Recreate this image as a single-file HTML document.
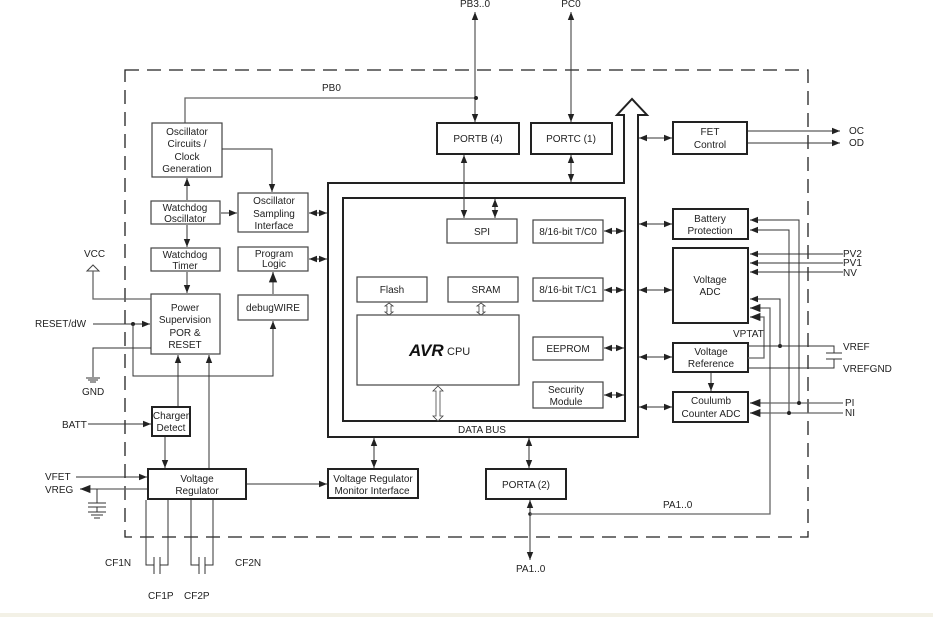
<!DOCTYPE html>
<html><head><meta charset="utf-8"><style>
html,body{margin:0;padding:0;background:#fff;width:933px;height:617px;overflow:hidden}
svg{display:block}
text{font-family:"Liberation Sans",sans-serif;font-size:10px;fill:#222}
.b{fill:#fff;stroke:#222;stroke-width:2}
.t{fill:#fff;stroke:#444;stroke-width:1.2}
.l{stroke:#333;stroke-width:1;fill:none}
.g{stroke:#666;stroke-width:1.3;fill:none}
</style></head><body>
<svg width="933" height="617" viewBox="0 0 933 617" xmlns="http://www.w3.org/2000/svg">
<defs>
<marker id="a" viewBox="0 0 10 10" refX="10" refY="5" markerWidth="8" markerHeight="8" orient="auto-start-reverse"><path d="M0,1 L10,5 L0,9 z" fill="#222"/></marker>
</defs>
<rect x="0" y="613" width="933" height="4" fill="#f3f1e6"/>
<!-- dashed border -->
<rect x="125" y="70" width="683" height="467" fill="none" stroke="#222" stroke-width="1.3" stroke-dasharray="14,8"/>

<!-- Data bus outline -->
<path d="M328,437 L328,183 L624,183 L624,115 L617,115 L632,99 L647,115 L638,115 L638,437 Z" fill="#fff" stroke="#222" stroke-width="2"/>
<rect x="343" y="198" width="282" height="223" fill="#fff" stroke="#222" stroke-width="2"/>
<text x="482" y="433" text-anchor="middle">DATA BUS</text>

<!-- ports top -->
<rect class="b" x="437" y="123" width="82" height="31"/><text x="478" y="142" text-anchor="middle">PORTB (4)</text>
<rect class="b" x="531" y="123" width="81" height="31"/><text x="571" y="142" text-anchor="middle">PORTC (1)</text>
<line class="l" x1="475" y1="12" x2="475" y2="122" marker-start="url(#a)" marker-end="url(#a)"/>
<line class="l" x1="571" y1="12" x2="571" y2="122" marker-start="url(#a)" marker-end="url(#a)"/>
<text x="475" y="7" text-anchor="middle">PB3..0</text>
<text x="571" y="7" text-anchor="middle">PC0</text>
<path class="g" d="M185,123 L185,98 L476,98"/>
<circle cx="476" cy="98" r="2" fill="#222"/>
<text x="322" y="91">PB0</text>
<line class="l" x1="464" y1="155" x2="464" y2="218" marker-start="url(#a)" marker-end="url(#a)"/>
<line class="l" x1="571" y1="155" x2="571" y2="182" marker-start="url(#a)" marker-end="url(#a)"/>
<line class="l" x1="495" y1="199" x2="495" y2="218" marker-start="url(#a)" marker-end="url(#a)"/>

<!-- inner blocks -->
<rect class="t" x="447" y="219" width="70" height="24"/><text x="482" y="235" text-anchor="middle">SPI</text>
<rect class="t" x="533" y="220" width="70" height="23"/><text x="568" y="235" text-anchor="middle">8/16-bit T/C0</text>
<rect class="t" x="533" y="278" width="70" height="23"/><text x="568" y="293" text-anchor="middle">8/16-bit T/C1</text>
<rect class="t" x="533" y="337" width="70" height="23"/><text x="568" y="352" text-anchor="middle">EEPROM</text>
<rect class="t" x="533" y="382" width="70" height="26"/><text x="566" y="393" text-anchor="middle">Security</text><text x="566" y="405" text-anchor="middle">Module</text>
<line class="l" x1="604" y1="231" x2="624" y2="231" marker-start="url(#a)" marker-end="url(#a)"/>
<line class="l" x1="604" y1="290" x2="624" y2="290" marker-start="url(#a)" marker-end="url(#a)"/>
<line class="l" x1="604" y1="348" x2="624" y2="348" marker-start="url(#a)" marker-end="url(#a)"/>
<line class="l" x1="604" y1="395" x2="624" y2="395" marker-start="url(#a)" marker-end="url(#a)"/>
<rect class="t" x="357" y="277" width="70" height="25"/><text x="392" y="293" text-anchor="middle">Flash</text>
<rect class="t" x="448" y="277" width="70" height="25"/><text x="486" y="293" text-anchor="middle">SRAM</text>
<rect class="t" x="357" y="315" width="162" height="70"/>
<text x="409" y="356" style="font-size:17px;font-weight:bold;font-style:italic;fill:#111">AVR</text>
<text x="447" y="355" style="font-size:11px">CPU</text>
<path d="M389,303 l4,3 h-2 v6 h2 l-4,3 l-4,-3 h2 v-6 h-2 z" fill="#fff" stroke="#444" stroke-width="0.8"/>
<path d="M481,303 l4,3 h-2 v6 h2 l-4,3 l-4,-3 h2 v-6 h-2 z" fill="#fff" stroke="#444" stroke-width="0.8"/>
<path d="M438,386 l5,5 h-3 v25 h3 l-5,5 l-5,-5 h3 v-25 h-3 z" fill="#fff" stroke="#444" stroke-width="0.8"/>

<!-- left column -->
<rect class="t" x="152" y="123" width="70" height="54"/>
<text x="187" y="135" text-anchor="middle">Oscillator</text><text x="187" y="147" text-anchor="middle">Circuits /</text><text x="187" y="160" text-anchor="middle">Clock</text><text x="187" y="172" text-anchor="middle">Generation</text>
<rect class="t" x="151" y="201" width="69" height="23"/><text x="185" y="211" text-anchor="middle">Watchdog</text><text x="185" y="222" text-anchor="middle">Oscillator</text>
<rect class="t" x="151" y="248" width="69" height="23"/><text x="185" y="258" text-anchor="middle">Watchdog</text><text x="185" y="269" text-anchor="middle">Timer</text>
<rect class="t" x="151" y="294" width="69" height="60"/>
<text x="185" y="311" text-anchor="middle">Power</text><text x="185" y="323" text-anchor="middle">Supervision</text><text x="185" y="336" text-anchor="middle">POR &amp;</text><text x="185" y="348" text-anchor="middle">RESET</text>
<rect class="t" x="238" y="193" width="70" height="39"/><text x="274" y="204" text-anchor="middle">Oscillator</text><text x="274" y="217" text-anchor="middle">Sampling</text><text x="274" y="229" text-anchor="middle">Interface</text>
<rect class="t" x="238" y="247" width="70" height="24"/><text x="274" y="257" text-anchor="middle">Program</text><text x="274" y="267" text-anchor="middle">Logic</text>
<rect class="t" x="238" y="295" width="70" height="25"/><text x="273" y="311" text-anchor="middle">debugWIRE</text>
<line class="l" x1="187" y1="200" x2="187" y2="178" marker-end="url(#a)"/>
<path class="l" d="M222,149 L272,149 L272,192" marker-end="url(#a)"/>
<line class="l" x1="221" y1="213" x2="237" y2="213" marker-end="url(#a)"/>
<line class="l" x1="187" y1="225" x2="187" y2="247" marker-end="url(#a)"/>
<line class="l" x1="187" y1="272" x2="187" y2="293" marker-end="url(#a)"/>
<line class="g" x1="273" y1="294" x2="273" y2="272" marker-end="url(#a)"/>
<line class="l" x1="309" y1="213" x2="327" y2="213" marker-start="url(#a)" marker-end="url(#a)"/>
<line class="l" x1="309" y1="259" x2="327" y2="259" marker-start="url(#a)" marker-end="url(#a)"/>
<!-- VCC/RESET/GND -->
<text x="84" y="257">VCC</text>
<path d="M87,271 L93,265 L99,271 Z" fill="#fff" stroke="#444"/>
<path class="g" d="M93,271 L93,299 L151,299"/>
<text x="35" y="327">RESET/dW</text>
<line class="l" x1="93" y1="324" x2="150" y2="324" marker-end="url(#a)"/>
<circle cx="133" cy="324" r="2" fill="#222"/>
<path class="l" d="M133,324 L133,376 L273,376 L273,321" marker-end="url(#a)"/>
<path class="l" d="M151,348 L93,348 L93,377"/>
<path class="l" d="M86,378 h14 M88,380 h10 M90,382 h6"/>
<text x="82" y="395">GND</text>
<line class="l" x1="178" y1="406" x2="178" y2="355" marker-end="url(#a)"/>
<line class="l" x1="209" y1="468" x2="209" y2="355" marker-end="url(#a)"/>
<!-- charger/VR -->
<rect class="b" x="152" y="407" width="38" height="29"/><text x="171" y="419" text-anchor="middle">Charger</text><text x="171" y="431" text-anchor="middle">Detect</text>
<text x="62" y="428">BATT</text>
<line class="l" x1="88" y1="424" x2="151" y2="424" marker-end="url(#a)"/>
<line class="l" x1="165" y1="437" x2="165" y2="468" marker-end="url(#a)"/>
<rect class="b" x="148" y="469" width="98" height="30"/><text x="197" y="482" text-anchor="middle">Voltage</text><text x="197" y="494" text-anchor="middle">Regulator</text>
<text x="45" y="480">VFET</text><text x="45" y="493">VREG</text>
<line class="l" x1="76" y1="477" x2="147" y2="477" marker-end="url(#a)"/>
<line class="g" x1="147" y1="489" x2="80" y2="489" marker-end="url(#a)"/>
<path class="l" d="M97,489 V503 M88,503 h18 M88,507 h18 M97,507 V512 M88,512 h18 M91,515 h12 M94,518 h6"/>
<path class="l" d="M146,500 V565 H154 M154,557 V574 M160,557 V574 M160,565 H168 V500"/>
<path class="l" d="M191,500 V565 H199 M199,557 V574 M205,557 V574 M205,565 H213 V500"/>
<text x="105" y="566">CF1N</text><text x="148" y="599">CF1P</text><text x="184" y="599">CF2P</text><text x="235" y="566">CF2N</text>
<line class="l" x1="247" y1="484" x2="327" y2="484" marker-end="url(#a)"/>
<rect class="b" x="328" y="469" width="90" height="29"/><text x="373" y="482" text-anchor="middle">Voltage Regulator</text><text x="372" y="494" text-anchor="middle">Monitor Interface</text>
<line class="l" x1="374" y1="438" x2="374" y2="468" marker-start="url(#a)" marker-end="url(#a)"/>
<rect class="b" x="486" y="469" width="80" height="30"/><text x="526" y="488" text-anchor="middle">PORTA (2)</text>
<line class="l" x1="529" y1="438" x2="529" y2="468" marker-start="url(#a)" marker-end="url(#a)"/>
<line class="l" x1="530" y1="500" x2="530" y2="560" marker-start="url(#a)" marker-end="url(#a)"/>
<circle cx="530" cy="514" r="1.8" fill="#222"/>
<path class="g" d="M530,514 L770,514 L770,308 L750,308" marker-end="url(#a)"/>
<text x="663" y="508">PA1..0</text>
<text x="516" y="572">PA1..0</text>

<!-- right column -->
<rect class="b" x="673" y="122" width="74" height="32"/><text x="710" y="135" text-anchor="middle">FET</text><text x="710" y="148" text-anchor="middle">Control</text>
<line class="l" x1="748" y1="131" x2="840" y2="131" marker-end="url(#a)"/>
<line class="l" x1="748" y1="143" x2="840" y2="143" marker-end="url(#a)"/>
<text x="849" y="134">OC</text><text x="849" y="146">OD</text>
<rect class="b" x="673" y="209" width="75" height="30"/><text x="710" y="222" text-anchor="middle">Battery</text><text x="710" y="234" text-anchor="middle">Protection</text>
<rect class="b" x="673" y="248" width="75" height="75"/><text x="710" y="283" text-anchor="middle">Voltage</text><text x="710" y="295" text-anchor="middle">ADC</text>
<rect class="b" x="673" y="343" width="75" height="29"/><text x="711" y="355" text-anchor="middle">Voltage</text><text x="711" y="367" text-anchor="middle">Reference</text>
<rect class="b" x="673" y="392" width="75" height="30"/><text x="711" y="404" text-anchor="middle">Coulumb</text><text x="711" y="417" text-anchor="middle">Counter ADC</text>
<line class="l" x1="639" y1="138" x2="672" y2="138" marker-start="url(#a)" marker-end="url(#a)"/>
<line class="l" x1="639" y1="224" x2="672" y2="224" marker-start="url(#a)" marker-end="url(#a)"/>
<line class="l" x1="639" y1="290" x2="672" y2="290" marker-start="url(#a)" marker-end="url(#a)"/>
<line class="l" x1="639" y1="357" x2="672" y2="357" marker-start="url(#a)" marker-end="url(#a)"/>
<line class="l" x1="639" y1="407" x2="672" y2="407" marker-start="url(#a)" marker-end="url(#a)"/>
<line class="l" x1="711" y1="373" x2="711" y2="391" marker-end="url(#a)"/>
<path class="l" d="M799,403 L799,220 L750,220" marker-end="url(#a)"/>
<path class="l" d="M789,413 L789,230 L750,230" marker-end="url(#a)"/>
<line class="l" x1="843" y1="254" x2="750" y2="254" marker-end="url(#a)"/>
<line class="l" x1="843" y1="263" x2="750" y2="263" marker-end="url(#a)"/>
<line class="l" x1="843" y1="272" x2="750" y2="272" marker-end="url(#a)"/>
<text x="843" y="257">PV2</text><text x="843" y="266">PV1</text><text x="843" y="276">NV</text>
<path class="l" d="M780,346 L780,299 L750,299" marker-end="url(#a)"/>
<path class="g" d="M748,358 L764,358 L764,317 L750,317" marker-end="url(#a)"/>
<circle cx="780" cy="346" r="2" fill="#222"/>
<path class="l" d="M748,346 L834,346 V353 M826,353 h16 M826,359 h16 M834,359 V368 H748"/>
<text x="843" y="350">VREF</text><text x="843" y="372">VREFGND</text>
<text x="733" y="337">VPTAT</text>
<line class="g" x1="843" y1="403" x2="750" y2="403" marker-end="url(#a)"/>
<line class="g" x1="843" y1="413" x2="750" y2="413" marker-end="url(#a)"/>
<circle cx="799" cy="403" r="2" fill="#222"/><circle cx="789" cy="413" r="2" fill="#222"/>
<text x="845" y="406">PI</text><text x="845" y="416">NI</text>
</svg>
</body></html>
